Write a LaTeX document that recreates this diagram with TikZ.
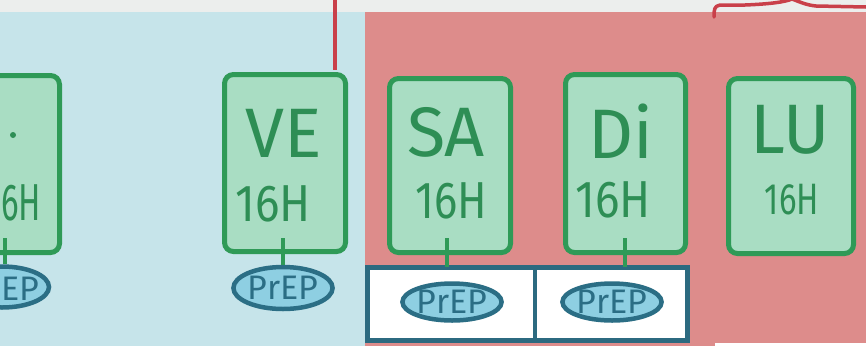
\documentclass[tikz,border=0pt]{standalone}
\usepackage{fontspec}
\setmainfont{Fira Sans}
\usetikzlibrary{shapes.geometric,calc}
\definecolor{stripgrey}{HTML}{ECEEED}
\definecolor{bgblue}{HTML}{C6E4EA}
\definecolor{bgred}{HTML}{DD8C8B}
\definecolor{boxfill}{HTML}{A9DDC3}
\definecolor{boxline}{HTML}{2F9A57}
\definecolor{boxtext}{HTML}{2E8E55}
\definecolor{prepfill}{HTML}{8ECFE2}
\definecolor{prepline}{HTML}{2B6E85}
\definecolor{panelline}{HTML}{2C6A80}
\definecolor{redline}{HTML}{C9404A}
\tikzset{
  daybox/.style={draw=boxline, fill=boxfill, line width=5pt, rounded corners=9pt, minimum width=#1, inner sep=0pt},
  dayname/.style={text=boxtext, font=\fontsize{70}{70}\selectfont, inner sep=0pt},
  hour/.style={text=boxtext, font=\fontsize{52}{52}\selectfont, inner sep=0pt, xscale=0.88},
  prep/.style={ellipse, draw=prepline, fill=prepfill, line width=4.5pt, inner sep=0pt, text=prepline, font=\fontsize{34}{34}\selectfont},
  preptext/.style={text=prepline, font=\fontsize{34}{34}\selectfont, inner sep=0pt},
  stem/.style={draw=boxline, line width=4pt},
  panel/.style={draw=panelline, line width=5pt, fill=white}
}
\begin{document}
\begin{tikzpicture}[x=1pt,y=-1pt]
\useasboundingbox (0,0) rectangle (866,346);
\clip (0,0) rectangle (866,346);
% backgrounds
\fill[stripgrey] (0,0) rectangle (866,12);
\fill[bgblue] (0,12) rectangle (365,346);
\fill[bgred] (365,12) rectangle (866,346);
\fill[white] (715,343) rectangle (866,346);
% red lines at top
\draw[redline, line width=3.5pt] (335,0) -- (335,70);
\draw[redline, line width=3.5pt, line cap=round, line join=round] (714,17) .. controls (714,10) and (714,6) .. (720,5) -- (745,5) .. controls (770,4) and (785,2) .. (792,-1) .. controls (800,2) and (806,5) .. (816,6) -- (866,7);
% white panel
\draw[panel] (367.5,267.5) rectangle (687.5,340.5);
\draw[panelline, line width=4pt] (535,267.5) -- (535,340.5);
% day boxes
\node[daybox=129pt, minimum height=177pt] (je) at (-5,164) {};
\node[daybox=121pt, minimum height=177pt] (ve) at (285,163) {};
\node[daybox=121pt, minimum height=174pt] (sa) at (450,165.5) {};
\node[daybox=120pt, minimum height=178pt] (di) at (625.5,163.5) {};
\node[daybox=125pt, minimum height=175pt] (lu) at (791,166) {};
% day names
\fill[boxtext] (13,135) circle (3pt);
\node[dayname] (veT) at (284,133) {VE};
\node[dayname] (saT) at (446,132) {SA};
\node[dayname] (diT) at (621,131) {Di};
\node[dayname] (luT) at (790,130) {LU};
% hours
\node[hour, anchor=west, xscale=0.72] (jeH) at (1,203) {6H};
\node[hour] (veH) at (273,204) {16H};
\node[hour, xscale=0.95] (saH) at (451,201) {16H};
\node[hour] (diH) at (613,200) {16H};
\node[hour, xscale=0.85, font=\fontsize{44}{44}\selectfont] (luH) at (792,200) {16H};
% PrEP ellipses
\node[prep, minimum width=94pt, minimum height=41pt] (pje) at (2,287) {};
\node[preptext, anchor=west] (pjeT) at (1,289) {EP};
\node[prep, minimum width=94pt, minimum height=42pt] (pve) at (283,288) {PrEP};
\node[prep, minimum width=96pt, minimum height=37pt] (psa) at (452,302) {PrEP};
\node[prep, minimum width=96pt, minimum height=37pt] (pdi) at (612,302) {PrEP};
% stems
\draw[stem] (5,238) -- (pje.north -| 5,0);
\draw[stem] (pve.north) -- (pve.north |- 0,238);
\draw[stem] (447,238) -- (447,267);
\draw[stem] (625,238) -- (625,267);
\end{tikzpicture}
\end{document}
